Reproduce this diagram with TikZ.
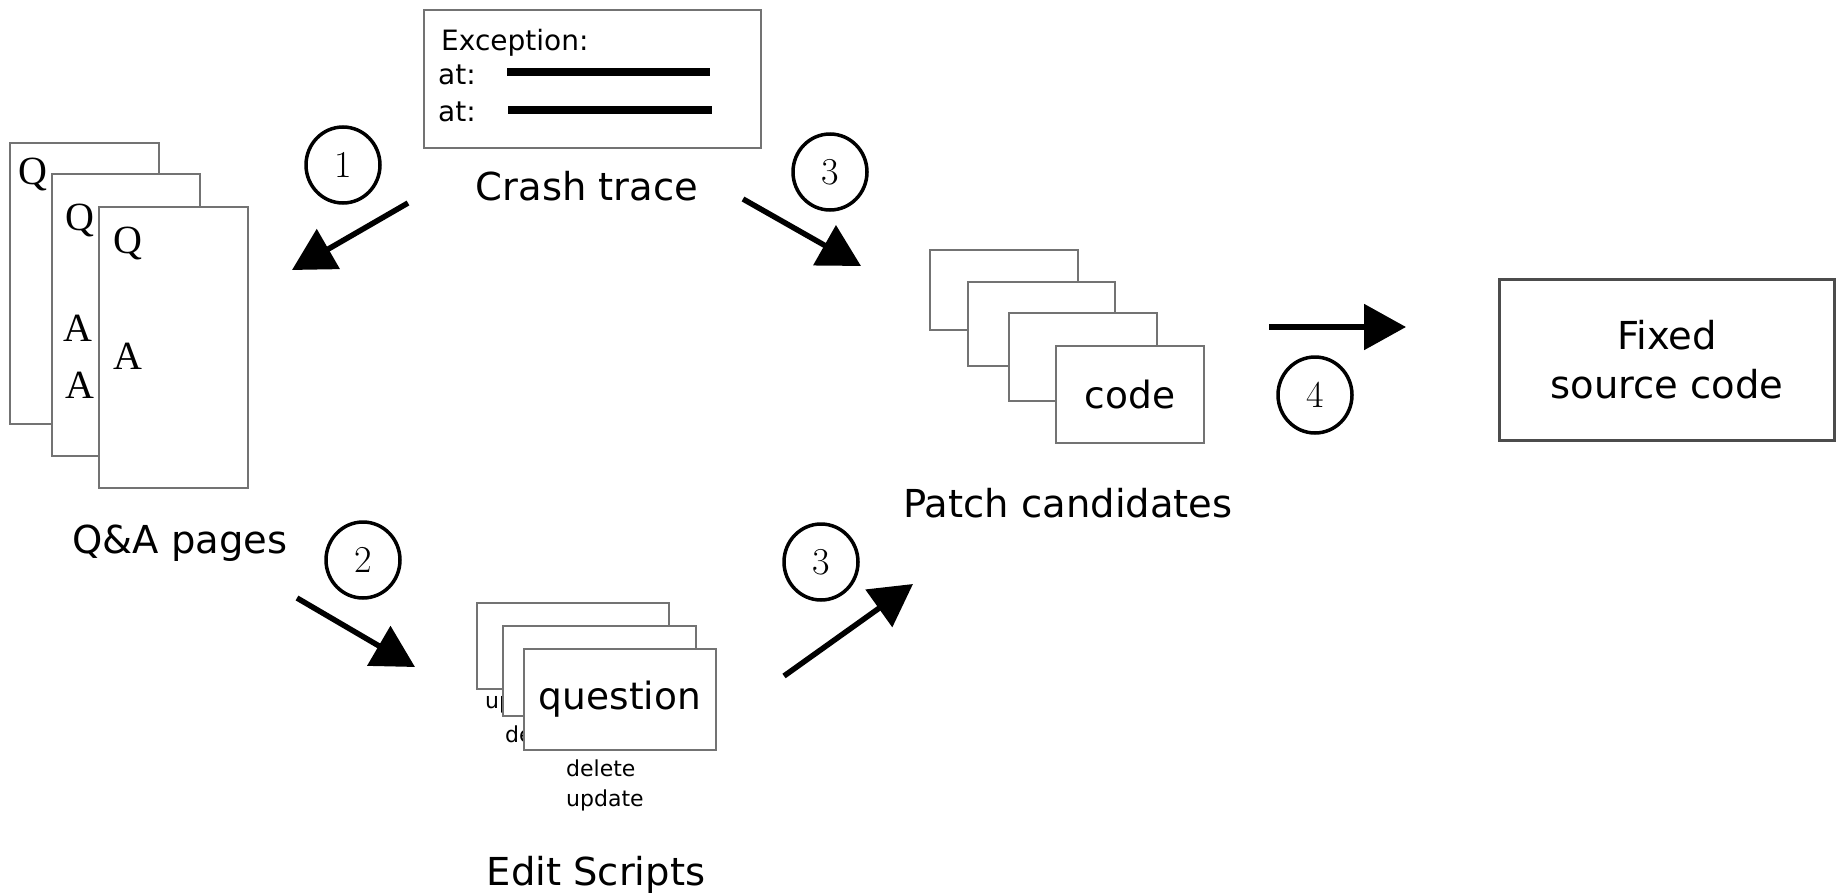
\documentclass[tikz,border=0pt]{standalone}
\usepackage{fontspec}
\newfontfamily\labfont{DejaVu Sans}
\newfontfamily\qafont{Liberation Serif}
\usetikzlibrary{arrows.meta,shapes.geometric}

\tikzset{
  card/.style={draw=black!55, line width=1.8pt, fill=white, anchor=north west, inner sep=0pt},
  bigtext/.style={font=\labfont\fontsize{38.5}{49}\selectfont, inner sep=0pt},
  midtext/.style={font=\labfont\fontsize{28}{34}\selectfont, inner sep=0pt, anchor=base west},
  smalltext/.style={font=\labfont\fontsize{22}{28}\selectfont, inner sep=0pt, anchor=base west},
  qatext/.style={font=\qafont\fontsize{40}{48}\selectfont, inner sep=0pt, anchor=base west},
  numring/.style={ellipse, draw, line width=3.5pt, minimum width=74pt, minimum height=76pt,
                  inner sep=0pt, font=\fontsize{38}{40}\selectfont},
  flow/.style={line width=5.5pt, -{Triangle[length=42pt,width=45pt]}},
  bar/.style={line width=7.5pt},
}

\begin{document}
\begin{tikzpicture}[x=1pt,y=-1pt]
\useasboundingbox (0,0) rectangle (1843,894);

% Q&A pages
\node[card, minimum width=149pt, minimum height=281pt] (qa1) at (9,142) {};
\node[qatext] (qa1q) at (18,184) {Q};
\node[card, minimum width=148pt, minimum height=282pt] (qa2) at (51,173) {};
\node[qatext] (qa2q) at (65,230) {Q};
\node[qatext] (qa2a) at (63,341) {A};
\node[qatext] (qa2b) at (65,398) {A};
\node[card, minimum width=149pt, minimum height=281pt] (qa3) at (98,206) {};
\node[qatext] (qa3q) at (113,253) {Q};
\node[qatext] (qa3a) at (113,369) {A};
\node[bigtext, anchor=base] (qalab) at (180,553) {Q\&A pages};

% crash trace
\node[card, minimum width=337pt, minimum height=138pt] (crash) at (423,9) {};
\node[midtext] (exc) at (441,50) {Exception:};
\node[midtext] (at1) at (438,84) {at:};
\node[midtext] (at2) at (438,121) {at:};
\coordinate (b1s) at (507,72);
\coordinate (b1e) at (710,72);
\coordinate (b2s) at (508,110);
\coordinate (b2e) at (712,110);
\draw[bar] (b1s) -- (b1e);
\draw[bar] (b2s) -- (b2e);
\node[bigtext, anchor=base] (crashlab) at (587,200) {Crash trace};

% patch candidates
\node[card, minimum width=148pt, minimum height=80pt] (pc1) at (929,249) {};
\node[card, minimum width=147pt, minimum height=84pt] (pc2) at (967,281) {};
\node[card, minimum width=148pt, minimum height=88pt] (pc3) at (1008,312) {};
\node[card, minimum width=148pt, minimum height=97pt, font=\labfont\fontsize{37.5}{44}\selectfont] (pc4) at (1055,345) {code};
\node[bigtext, anchor=base] (pclab) at (1068,517) {Patch candidates};

% edit scripts
\node[card, minimum width=192pt, minimum height=86pt] (es1) at (476,602) {};
\node[smalltext] (es1t) at (485,708) {update};
\node[card, minimum width=193pt, minimum height=90pt] (es2) at (502,625) {};
\node[smalltext] (es2t) at (505,742) {delete};
\node[card, minimum width=192pt, minimum height=101pt, font=\labfont\fontsize{37.5}{44}\selectfont] (es3) at (523,648) {question};
\node[smalltext] (es3a) at (566,776) {delete};
\node[smalltext] (es3b) at (566,806) {update};
\node[bigtext, anchor=base] (eslab) at (596,885) {Edit Scripts};

% fixed source code
\node[draw=black!70, line width=2.5pt, minimum width=335pt, minimum height=161pt,
      align=center, font=\labfont\fontsize{38.5}{49}\selectfont] (fix) at (1667,360) {Fixed\\source code};

% step numbers
\node[numring] (n1) at (343,165) {1};
\node[numring] (n3a) at (830,172) {3};
\node[numring] (n2) at (363,560) {2};
\node[numring] (n3b) at (821,562) {3};
\node[numring] (n4) at (1315,395) {4};

% flow arrows
\coordinate (a1s) at (408,203);  \coordinate (a1e) at (292,270);
\coordinate (a3s) at (743,199);  \coordinate (a3e) at (861,266);
\coordinate (a2s) at (297,598);  \coordinate (a2e) at (415,667);
\coordinate (a5s) at (784,676);  \coordinate (a5e) at (913,584);
\coordinate (a4s) at (1269,327); \coordinate (a4e) at (1406,327);
\draw[flow] (a1s) -- (a1e);
\draw[flow] (a3s) -- (a3e);
\draw[flow] (a2s) -- (a2e);
\draw[flow] (a5s) -- (a5e);
\draw[flow] (a4s) -- (a4e);
\end{tikzpicture}
\end{document}
